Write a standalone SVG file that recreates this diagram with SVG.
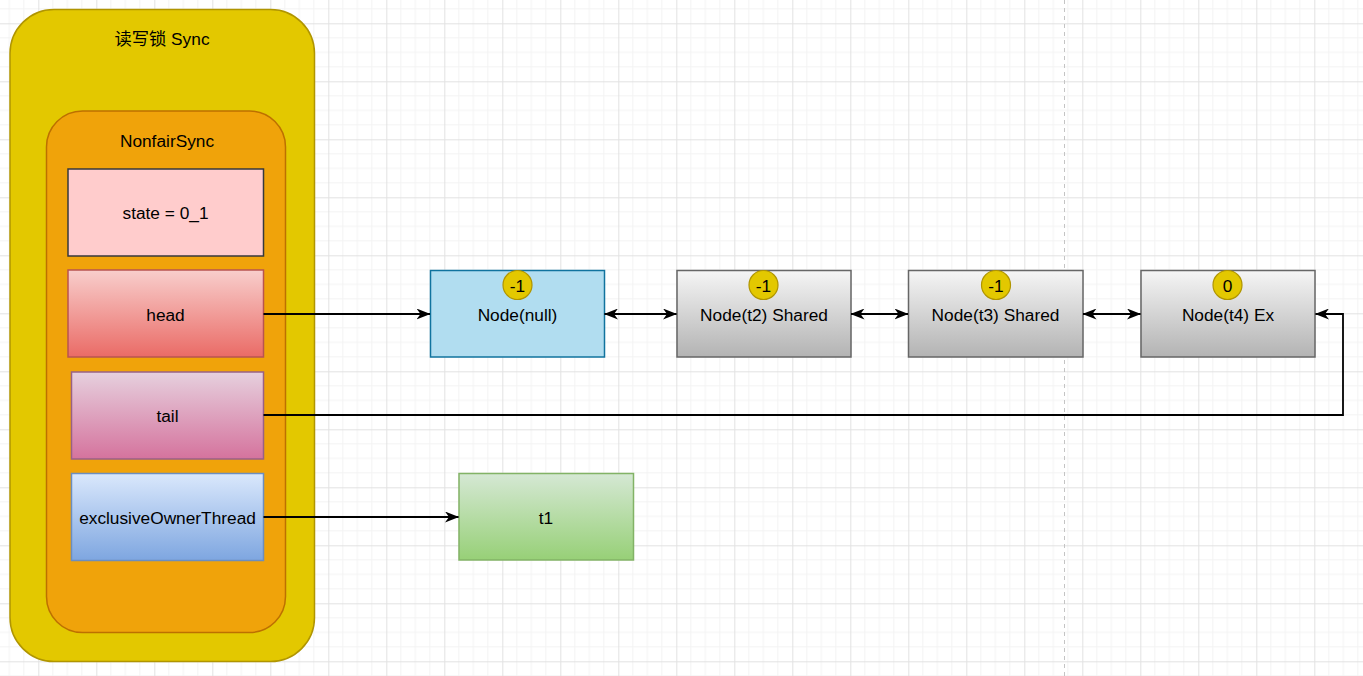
<svg xmlns="http://www.w3.org/2000/svg" width="1363" height="676" viewBox="0 0 1363 676">
<style>
text{font-family:"Liberation Sans","Noto Sans CJK SC",sans-serif;font-size:17.3px;fill:#000;text-anchor:middle;dominant-baseline:central}
.conn{fill:none;stroke:#000;stroke-width:1.8}
.badge{fill:#e3c800;stroke:#b09500;stroke-width:1.2}
.gray{fill:url(#gGray);stroke:#666666;stroke-width:1.5}
</style>
<defs>
<pattern id="grid" x="38.3" y="23.3" width="58" height="58" patternUnits="userSpaceOnUse">
<path d="M14.5,0V58M29,0V58M43.5,0V58M0,14.5H58M0,29H58M0,43.5H58" stroke="#f3f3f3" stroke-width="1"/>
<path d="M0.5,0V58M0,0.5H58" stroke="#e2e2e2" stroke-width="1"/>
</pattern>
<linearGradient id="gGray" x1="0" y1="0" x2="0" y2="1"><stop offset="0" stop-color="#f5f5f5"/><stop offset="1" stop-color="#b3b3b3"/></linearGradient>
<linearGradient id="gRed" x1="0" y1="0" x2="0" y2="1"><stop offset="0" stop-color="#f8cecc"/><stop offset="1" stop-color="#ea6b66"/></linearGradient>
<linearGradient id="gPink" x1="0" y1="0" x2="0" y2="1"><stop offset="0" stop-color="#e6d0de"/><stop offset="1" stop-color="#d5739d"/></linearGradient>
<linearGradient id="gBlue" x1="0" y1="0" x2="0" y2="1"><stop offset="0" stop-color="#dae8fc"/><stop offset="1" stop-color="#7ea6e0"/></linearGradient>
<linearGradient id="gGreen" x1="0" y1="0" x2="0" y2="1"><stop offset="0" stop-color="#d5e8d4"/><stop offset="1" stop-color="#97d077"/></linearGradient>
<marker id="arr" viewBox="0 0 14 11" refX="13.5" refY="5.5" markerWidth="14" markerHeight="11" markerUnits="userSpaceOnUse" orient="auto-start-reverse">
<path d="M0,0 L14,5.5 L0,11 L4,5.5 Z" fill="#000"/>
</marker>
</defs>
<rect width="1363" height="676" fill="#ffffff"/>
<rect width="1363" height="676" fill="url(#grid)"/>
<line x1="1064.5" y1="0" x2="1064.5" y2="676" stroke="#c4c4c4" stroke-width="1" stroke-dasharray="4 4"/>

<g id="sync">
<rect x="10" y="9.5" width="304.5" height="652" rx="44" fill="#e3c800" stroke="#b09500" stroke-width="1.5"/>
<text x="162" y="39">读写锁 Sync</text>
</g>
<g id="nonfairSync">
<rect x="46.5" y="111" width="239" height="521.5" rx="36" fill="#f0a30a" stroke="#bd7000" stroke-width="1.5"/>
<text x="167" y="141">NonfairSync</text>
</g>
<g id="state">
<rect x="68" y="169" width="195.5" height="87" fill="#ffcccc" stroke="#36393d" stroke-width="1.5"/>
<text x="165.5" y="213">state = 0_1</text>
</g>
<g id="head">
<rect x="68" y="270" width="195.5" height="87" fill="url(#gRed)" stroke="#b85450" stroke-width="1.5"/>
<text x="165.5" y="315">head</text>
</g>
<g id="tail">
<rect x="71.5" y="372" width="192" height="87" fill="url(#gPink)" stroke="#996185" stroke-width="1.5"/>
<text x="167.5" y="416">tail</text>
</g>
<g id="exclusiveOwnerThread">
<rect x="71.5" y="473.5" width="192" height="87" fill="url(#gBlue)" stroke="#6c8ebf" stroke-width="1.5"/>
<text x="167.5" y="518">exclusiveOwnerThread</text>
</g>

<g id="nodeNull">
<rect x="430.5" y="270.5" width="174" height="86.5" fill="#b1ddf0" stroke="#10739e" stroke-width="1.5"/>
<text x="517.5" y="315">Node(null)</text>
<circle class="badge" cx="517.5" cy="285" r="14.5"/>
<text x="517.5" y="286">-1</text>
</g>
<g id="nodeT2">
<rect class="gray" x="677" y="270.5" width="174" height="86.5"/>
<text x="764" y="315">Node(t2) Shared</text>
<circle class="badge" cx="763.5" cy="285" r="14.5"/>
<text x="763.5" y="286">-1</text>
</g>
<g id="nodeT3">
<rect class="gray" x="908.5" y="270.5" width="174.5" height="86.5"/>
<text x="995.5" y="315">Node(t3) Shared</text>
<circle class="badge" cx="996" cy="285" r="14.5"/>
<text x="996" y="286">-1</text>
</g>
<g id="nodeT4">
<rect class="gray" x="1141" y="270.5" width="174" height="86.5"/>
<text x="1228" y="315">Node(t4) Ex</text>
<circle class="badge" cx="1227.5" cy="285" r="14.5"/>
<text x="1227.5" y="286">0</text>
</g>
<g id="t1">
<rect x="459" y="473.5" width="174.5" height="86.5" fill="url(#gGreen)" stroke="#82b366" stroke-width="1.5"/>
<text x="546" y="518">t1</text>
</g>

<g id="connectors">
<path class="conn" d="M263.5,314 H430" marker-end="url(#arr)"/>
<path class="conn" d="M604.5,314 H676.5" marker-start="url(#arr)" marker-end="url(#arr)"/>
<path class="conn" d="M851,314 H908" marker-start="url(#arr)" marker-end="url(#arr)"/>
<path class="conn" d="M1083,314 H1140.5" marker-start="url(#arr)" marker-end="url(#arr)"/>
<path class="conn" d="M263.5,415 H1343 V314 H1315.5" marker-end="url(#arr)"/>
<path class="conn" d="M263.5,517 H458.5" marker-end="url(#arr)"/>
</g>
</svg>
